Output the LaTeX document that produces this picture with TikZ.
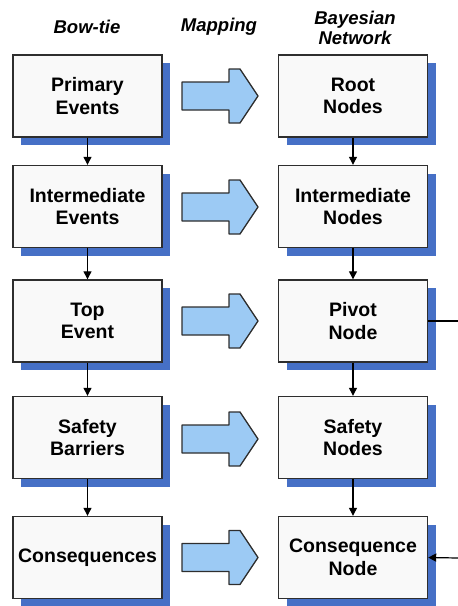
\documentclass[tikz,border=0pt]{standalone}
\usepackage{fontspec}
\setmainfont{Liberation Sans}
\usetikzlibrary{arrows.meta,shadows}
\definecolor{shadowblue}{HTML}{4670C6}
\definecolor{arrowblue}{HTML}{9CCAF4}
\definecolor{boxline}{HTML}{2E2E2E}
\definecolor{boxfill}{HTML}{F9F9F9}
\tikzset{
  stagebox/.style={draw=boxline, line width=1.4pt, fill=boxfill,
    minimum width=149pt, minimum height=82pt, align=center,
    font=\fontsize{19.5}{22.5}\selectfont\bfseries,
    drop shadow={shadow xshift=8pt, shadow yshift=-8pt, fill=shadowblue, opacity=1}},
  header/.style={align=center, font=\fontsize{18.5}{20}\selectfont\bfseries\itshape},
  flow/.style={line width=1.2pt, -{Triangle[length=8pt,width=8pt]}},
  maparrow/.style={draw=boxline, line width=1.3pt, fill=arrowblue, line join=round},
}
\begin{document}
\begin{tikzpicture}[x=1pt,y=-1pt]
\useasboundingbox (0,0) rectangle (458,606);

% column headers
\node[header] (hbow) at (87,27) {Bow-tie};
\node[header] (hmap) at (219,27) {Mapping};
\node[header] (hbn) at (355,28) {Bayesian\\Network};

% bow-tie column
\node[stagebox] (pe) at (87.5,96) {Primary\\Events};
\node[stagebox] (ie) at (87.5,206.5) {Intermediate\\Events};
\node[stagebox] (te) at (87.5,321) {Top\\Event};
\node[stagebox] (sb) at (87.5,437.5) {Safety\\Barriers};
\node[stagebox] (cq) at (87.5,557.5) {Consequences};

% Bayesian network column
\node[stagebox] (rn) at (353,96) {Root\\Nodes};
\node[stagebox] (in) at (353,206.5) {Intermediate\\Nodes};
\node[stagebox] (pn) at (353,321) {Pivot\\Node};
\node[stagebox] (sn) at (353,437.5) {Safety\\Nodes};
\node[stagebox] (cn) at (353,557.5) {Consequence\\Node};

% vertical flow
\draw[flow] (pe) -- (ie);
\draw[flow] (ie) -- (te);
\draw[flow] (te) -- (sb);
\draw[flow] (sb) -- (cq);
\draw[flow] (rn) -- (in);
\draw[flow] (in) -- (pn);
\draw[flow] (pn) -- (sn);
\draw[flow] (sn) -- (cn);

% side links on the right
\coordinate (pout) at (458,321);
\coordinate (cin) at (458,558);
\draw[line width=1.2pt] (pn.east) -- (pout);
\draw[flow] (cin) -- (cn.east);

% mapping arrows
\foreach \yc in {96,207,321,439,557.5}{
  \draw[maparrow, shift={(0,\yc)}]
    (182,-14) -- (229,-14) -- (229,-27) -- (240,-27) -- (258,0)
    -- (240,27) -- (229,27) -- (229,14) -- (182,14) -- cycle;
}
\end{tikzpicture}
\end{document}
